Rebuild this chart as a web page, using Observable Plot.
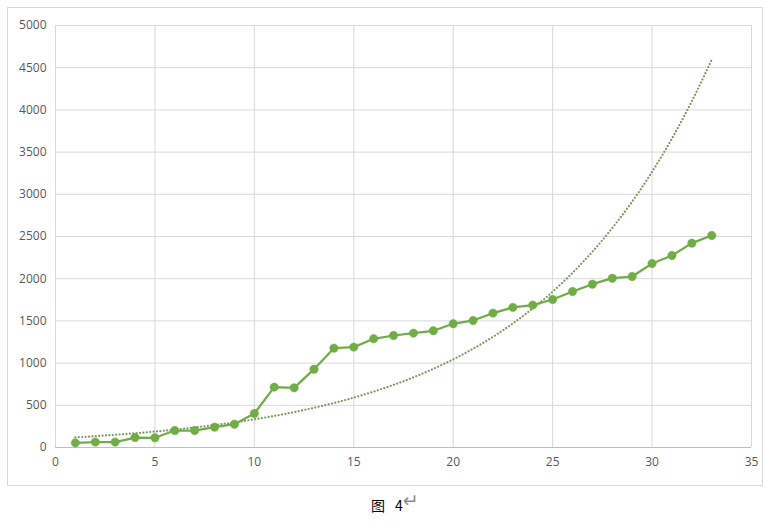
<!DOCTYPE html>
<html>
<head>
<meta charset="utf-8">
<script src="https://cdn.jsdelivr.net/npm/d3@7"></script>
<script src="https://cdn.jsdelivr.net/npm/@observablehq/plot@0.6"></script>
<style>
  html, body { margin: 0; padding: 0; background: #fff; }
  #wrap { position: relative; width: 767px; height: 522px; }
  #frame { position: absolute; left: 7px; top: 7px; width: 754px; height: 477px; border: 1px solid #d9d9d9; }
  #chart { position: absolute; left: 0; top: 0; }
  #caption { position: absolute; top: 493px; left: 371px; font-family: "Noto Sans CJK SC", sans-serif; font-size: 14px; color: #000; white-space: nowrap; }
  #caption .num { margin-left: 10px; }
  #caption .pm { color: #8a8a8a; font-family: "DejaVu Sans", sans-serif; font-size: 19px; position: relative; top: -4px; }
</style>
</head>
<body>
<div id="wrap">
  <div id="frame"></div>
  <div id="chart"></div>
  <div id="caption">图<span class="num">4</span><span class="pm">↵</span></div>
</div>
<script>
const xs = [1,2,3,4,5,6,7,8,9,10,11,12,13,14,15,16,17,18,19,20,21,22,23,24,25,26,27,28,29,30,31,32,33];
const ys = [55,64,64,118,115,201,201,241,276,403,715,707,928,1177,1189,1288,1327,1355,1383,1466,1505,1592,1660,1687,1754,1849,1935,2006,2026,2180,2275,2421,2512];
const xTicks = [0,5,10,15,20,25,30,35];
const yTicks = [0,500,1000,1500,2000,2500,3000,3500,4000,4500,5000];

const data = xs.map((x, i) => ({x, y: ys[i]}));

// Exponential trendline (least squares on ln y), as Excel computes it
const n = xs.length;
const mx = d3.mean(xs);
const ly = ys.map(Math.log);
const my = d3.mean(ly);
const b = d3.sum(xs.map((x, i) => (x - mx) * (ly[i] - my))) / d3.sum(xs.map(x => (x - mx) ** 2));
const a = Math.exp(my - b * mx);
const trend = d3.range(0, 201).map(i => {
  const x = xs[0] + (xs[n - 1] - xs[0]) * i / 200;
  return {x, y: a * Math.exp(b * x)};
});

const green = "#70AD47";

const chart = Plot.plot({
  width: 767,
  height: 490,
  marginLeft: 55,
  marginRight: 16,
  marginTop: 25,
  marginBottom: 43,
  style: { fontFamily: "'Open Sans', 'Noto Sans', sans-serif", fontSize: "12px", color: "#595959", background: "transparent" },
  x: { domain: [0, 35], label: null },
  y: { domain: [0, 5000], label: null },
  marks: [
    Plot.gridX(xTicks, { stroke: "#d9d9d9", strokeOpacity: 1, strokeWidth: 1 }),
    Plot.gridY(yTicks, { stroke: "#d9d9d9", strokeOpacity: 1, strokeWidth: 1 }),
    Plot.ruleY([0], { stroke: "#bfbfbf", strokeWidth: 1 }),
    Plot.axisX(xTicks, { tickSize: 0, tickPadding: 10, fill: "#595959", tickFormat: d => String(d) }),
    Plot.axisY(yTicks, { tickSize: 0, tickPadding: 9, fill: "#595959", tickFormat: d => String(d) }),
    Plot.line(trend, { x: "x", y: "y", stroke: "#7a9a64", strokeWidth: 2.2, strokeLinecap: "round", strokeDasharray: "0.01,3.4" }),
    Plot.line(data, { x: "x", y: "y", stroke: green, strokeWidth: 2.25 }),
    Plot.dot(data, { x: "x", y: "y", fill: green, r: 4.2, stroke: green, strokeWidth: 0.5 })
  ]
});
document.getElementById("chart").appendChild(chart);
</script>
</body>
</html>
